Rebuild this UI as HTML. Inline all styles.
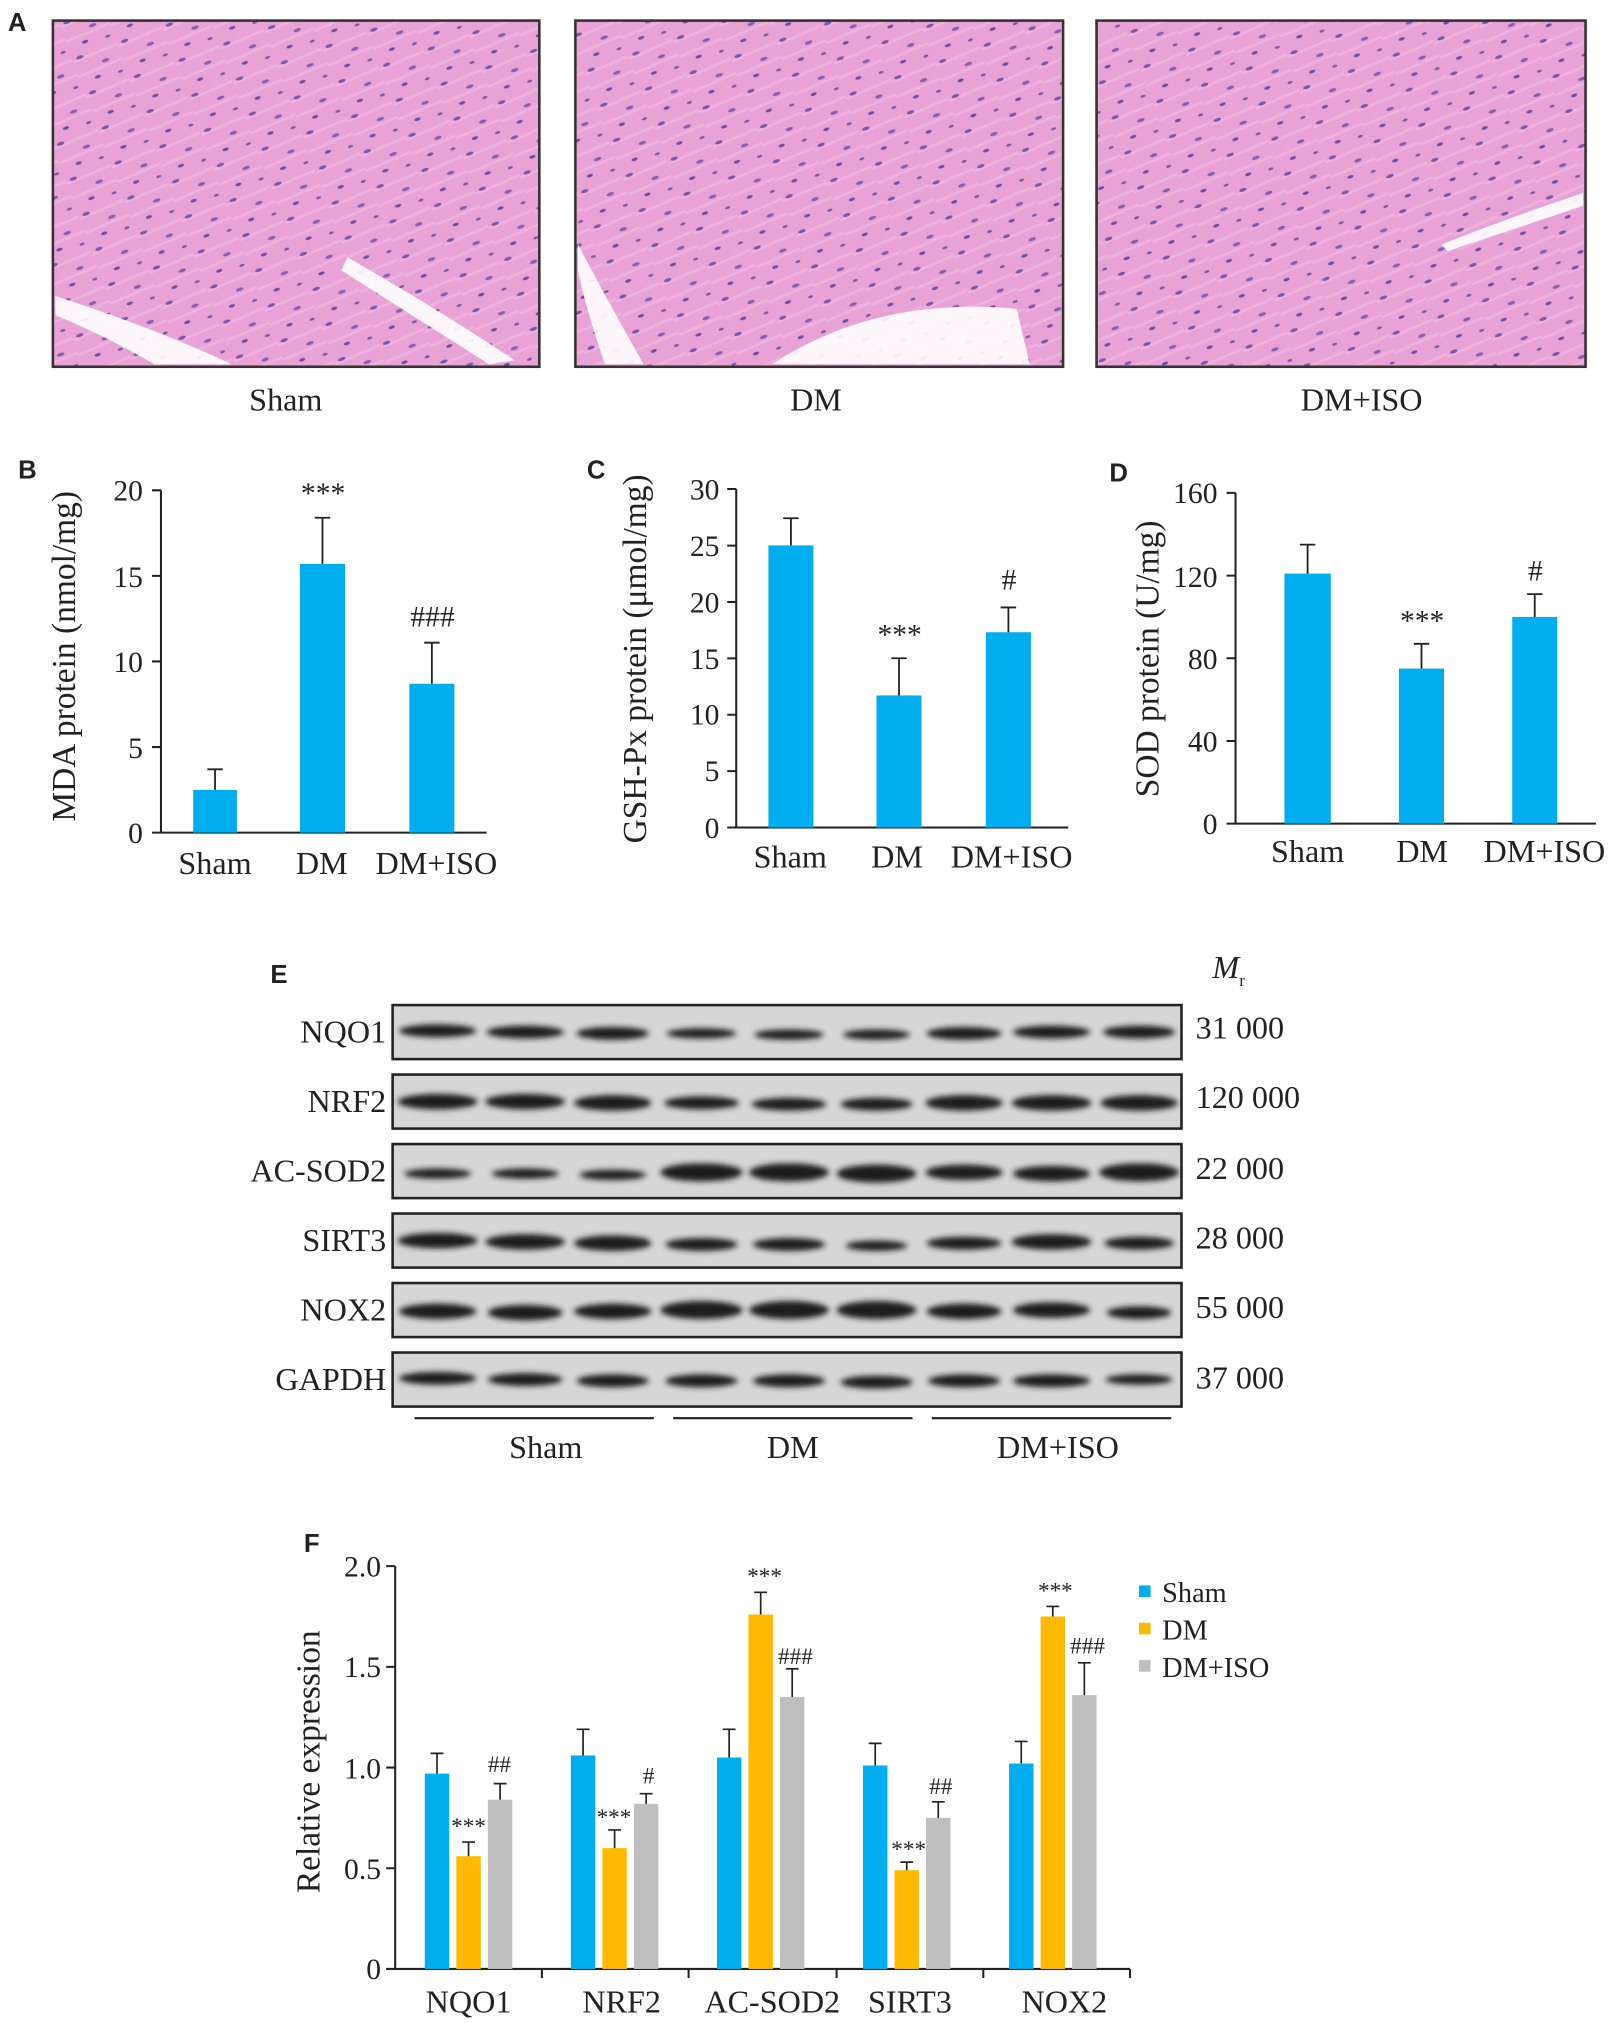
<!DOCTYPE html>
<html><head><meta charset="utf-8"><style>
html,body{margin:0;padding:0;background:#fff;}
svg{display:block;}
text{font-family:"Liberation Serif",serif;fill:#222;}
.lt{font-family:"Liberation Sans",sans-serif;font-weight:bold;font-size:20px;}
.t{font-size:25px;}
.ax{font-size:26px;}
.tk{font-size:23px;}
.lg{font-size:22px;}
</style></head><body>
<svg width="1614" height="2023" viewBox="0 0 1254 1572" xmlns="http://www.w3.org/2000/svg">
<defs>
<pattern id="nuc" width="37" height="29" patternUnits="userSpaceOnUse" patternTransform="rotate(-20)">
<rect width="37" height="29" fill="#e9a2d6"/>
<path d="M0 7 L37 5 M0 19 L37 17" stroke="#eeb2de" stroke-width="2"/>
<ellipse cx="6" cy="5" rx="3" ry="1.3" fill="#7a58a8"/>
<ellipse cx="24" cy="14" rx="3" ry="1.3" fill="#8460b0"/>
<ellipse cx="14" cy="24" rx="2.5" ry="1.2" fill="#6d4ea0"/>
<ellipse cx="32" cy="26" rx="2" ry="1" fill="#7a58a8"/>
</pattern>
<filter id="bl"><feGaussianBlur stdDeviation="2.2"/></filter>
</defs>
<rect width="1254" height="1572" fill="#fff"/>
<!-- Panel A -->
<text x="6" y="24" class="lt">A</text>
<g stroke="#333" stroke-width="2">
<rect x="41" y="16" width="378" height="269" fill="url(#nuc)"/>
<rect x="447" y="16" width="379" height="269" fill="url(#nuc)"/>
<rect x="852" y="16" width="380" height="269" fill="url(#nuc)"/>
</g>
<g fill="#fff" opacity="0.9">
<path d="M43 230 Q120 255 180 283 L120 283 Q80 260 43 245Z"/>
<path d="M270 200 Q340 240 400 280 L380 283 Q320 245 265 210Z"/>
<path d="M600 283 Q680 230 790 240 L800 283Z" />
<path d="M449 190 Q470 230 500 283 L470 283 Q455 240 449 210Z"/>
<path d="M1120 190 Q1170 170 1230 150 L1230 160 Q1170 180 1125 195Z"/>
</g>
<text x="222" y="319" class="t" text-anchor="middle">Sham</text>
<text x="634" y="319" class="t" text-anchor="middle">DM</text>
<text x="1058" y="319" class="t" text-anchor="middle">DM+ISO</text>

<!-- Panel B -->
<text x="14" y="372" class="lt">B</text>
<g stroke="#222" stroke-width="1.6" fill="none">
<path d="M125 381 V647 H378"/>
<path d="M118 381H125 M118 447.5H125 M118 514H125 M118 580.5H125 M118 647H125"/>
</g>
<g class="tk" text-anchor="end"><text x="111" y="389">20</text><text x="111" y="456">15</text><text x="111" y="522">10</text><text x="111" y="589">5</text><text x="111" y="655">0</text></g>
<text transform="translate(58 510) rotate(-90)" class="ax" text-anchor="middle">MDA protein (nmol/mg)</text>
<g fill="#00aeef"><rect x="150" y="613.8" width="34" height="33.2"/><rect x="233" y="438.2" width="35" height="208.8"/><rect x="318" y="531.3" width="35" height="115.7"/></g>
<g stroke="#222" stroke-width="1.4"><path d="M167 613.8V597.8M161 597.8H173M250.5 438.2V402.3M244.5 402.3H256.5M335.5 531.3V499.4M329.5 499.4H341.5"/></g>
<text x="251" y="391" class="tk" text-anchor="middle">***</text>
<text x="336" y="487" class="tk" text-anchor="middle">###</text>
<g class="t" text-anchor="middle"><text x="167" y="679">Sham</text><text x="250" y="679">DM</text><text x="339" y="679">DM+ISO</text></g>

<!-- Panel C -->
<text x="456" y="372" class="lt">C</text>
<g stroke="#222" stroke-width="1.6" fill="none">
<path d="M572 380 V643 H830"/>
<path d="M565 380H572M565 424H572M565 467.8H572M565 511.6H572M565 555.4H572M565 599.2H572M565 643H572"/>
</g>
<g class="tk" text-anchor="end"><text x="559" y="388">30</text><text x="559" y="432">25</text><text x="559" y="476">20</text><text x="559" y="520">15</text><text x="559" y="563">10</text><text x="559" y="607">5</text><text x="559" y="651">0</text></g>
<text transform="translate(502 512) rotate(-90)" class="ax" text-anchor="middle">GSH-Px protein (μmol/mg)</text>
<g fill="#00aeef"><rect x="597" y="423.8" width="35" height="219.2"/><rect x="681" y="540.4" width="35" height="102.6"/><rect x="766" y="491.3" width="35" height="151.7"/></g>
<g stroke="#222" stroke-width="1.4"><path d="M614.5 423.8V402.7M608.5 402.7H620.5M698.5 540.4V511.5M692.5 511.5H704.5M783.5 491.3V472M777.5 472H789.5"/></g>
<text x="699" y="501" class="tk" text-anchor="middle">***</text>
<text x="784" y="458" class="tk" text-anchor="middle">#</text>
<g class="t" text-anchor="middle"><text x="614" y="674">Sham</text><text x="697" y="674">DM</text><text x="786" y="674">DM+ISO</text></g>

<!-- Panel D -->
<text x="862" y="374" class="lt">D</text>
<g stroke="#222" stroke-width="1.6" fill="none">
<path d="M960 383 V640 H1240"/>
<path d="M953 383H960M953 447.3H960M953 511.5H960M953 575.8H960M953 640H960"/>
</g>
<g class="tk" text-anchor="end"><text x="946" y="391">160</text><text x="946" y="456">120</text><text x="946" y="520">80</text><text x="946" y="584">40</text><text x="946" y="648">0</text></g>
<text transform="translate(900 512) rotate(-90)" class="ax" text-anchor="middle">SOD protein (U/mg)</text>
<g fill="#00aeef"><rect x="998" y="445.7" width="36" height="194.3"/><rect x="1087" y="519.5" width="35" height="120.5"/><rect x="1175" y="479.4" width="35" height="160.6"/></g>
<g stroke="#222" stroke-width="1.4"><path d="M1016 445.7V423.2M1010 423.2H1022M1104.5 519.5V500.3M1098.5 500.3H1110.5M1192.5 479.4V461.7M1186.5 461.7H1198.5"/></g>
<text x="1105" y="490" class="tk" text-anchor="middle">***</text>
<text x="1193" y="451" class="tk" text-anchor="middle">#</text>
<g class="t" text-anchor="middle"><text x="1016" y="670">Sham</text><text x="1105" y="670">DM</text><text x="1200" y="670">DM+ISO</text></g>

<!-- Panel E -->
<text x="210" y="764" class="lt">E</text>
<text x="942" y="760" class="t" font-style="italic">M</text><text x="963" y="766" font-size="13">r</text>
<g stroke="#222" stroke-width="2" fill="#d6d6d6">
<rect x="305" y="781" width="613" height="42"/><rect x="305" y="835" width="613" height="42"/>
<rect x="305" y="889" width="613" height="42"/><rect x="305" y="943" width="613" height="42"/>
<rect x="305" y="997" width="613" height="42"/><rect x="305" y="1051" width="613" height="42"/>
</g>
<g fill="#1a1a1a" filter="url(#bl)">
<ellipse cx="340" cy="801" rx="30" ry="5"/><ellipse cx="408" cy="802" rx="30" ry="5"/><ellipse cx="476" cy="803" rx="28" ry="5"/><ellipse cx="545" cy="803" rx="27" ry="4"/><ellipse cx="613" cy="804" rx="27" ry="4"/><ellipse cx="681" cy="804" rx="26" ry="4"/><ellipse cx="749" cy="803" rx="29" ry="5"/><ellipse cx="817" cy="802" rx="30" ry="5"/><ellipse cx="885" cy="802" rx="28" ry="5"/>
<ellipse cx="340" cy="856" rx="31" ry="6"/><ellipse cx="408" cy="856" rx="31" ry="6"/><ellipse cx="476" cy="857" rx="30" ry="6"/><ellipse cx="545" cy="857" rx="29" ry="5"/><ellipse cx="613" cy="858" rx="29" ry="5"/><ellipse cx="681" cy="858" rx="28" ry="5"/><ellipse cx="749" cy="857" rx="30" ry="6"/><ellipse cx="817" cy="857" rx="31" ry="6"/><ellipse cx="885" cy="857" rx="30" ry="6"/>
<ellipse cx="340" cy="912" rx="26" ry="4"/><ellipse cx="408" cy="912" rx="26" ry="4"/><ellipse cx="476" cy="913" rx="26" ry="4"/><ellipse cx="545" cy="911" rx="32" ry="7"/><ellipse cx="613" cy="911" rx="31" ry="7"/><ellipse cx="681" cy="912" rx="31" ry="7"/><ellipse cx="749" cy="911" rx="30" ry="6"/><ellipse cx="817" cy="912" rx="30" ry="6"/><ellipse cx="885" cy="911" rx="31" ry="7"/>
<ellipse cx="340" cy="964" rx="31" ry="6"/><ellipse cx="408" cy="965" rx="31" ry="6"/><ellipse cx="476" cy="966" rx="30" ry="6"/><ellipse cx="545" cy="967" rx="28" ry="5"/><ellipse cx="613" cy="967" rx="28" ry="5"/><ellipse cx="681" cy="968" rx="24" ry="4"/><ellipse cx="749" cy="966" rx="29" ry="5"/><ellipse cx="817" cy="965" rx="31" ry="6"/><ellipse cx="885" cy="966" rx="27" ry="5"/>
<ellipse cx="340" cy="1019" rx="30" ry="6"/><ellipse cx="408" cy="1020" rx="29" ry="6"/><ellipse cx="476" cy="1019" rx="30" ry="6"/><ellipse cx="545" cy="1018" rx="32" ry="7"/><ellipse cx="613" cy="1018" rx="31" ry="7"/><ellipse cx="681" cy="1018" rx="31" ry="7"/><ellipse cx="749" cy="1019" rx="29" ry="6"/><ellipse cx="817" cy="1018" rx="30" ry="6"/><ellipse cx="885" cy="1020" rx="25" ry="5"/>
<ellipse cx="340" cy="1071" rx="30" ry="5"/><ellipse cx="408" cy="1072" rx="29" ry="5"/><ellipse cx="476" cy="1073" rx="28" ry="5"/><ellipse cx="545" cy="1073" rx="28" ry="5"/><ellipse cx="613" cy="1073" rx="28" ry="5"/><ellipse cx="681" cy="1074" rx="28" ry="5"/><ellipse cx="749" cy="1073" rx="28" ry="5"/><ellipse cx="817" cy="1073" rx="30" ry="5"/><ellipse cx="885" cy="1072" rx="26" ry="4"/>
</g>
<g class="t" text-anchor="end"><text x="300" y="810">NQO1</text><text x="300" y="864">NRF2</text><text x="300" y="918">AC-SOD2</text><text x="300" y="972">SIRT3</text><text x="300" y="1026">NOX2</text><text x="300" y="1080">GAPDH</text></g>
<g class="t"><text x="929" y="807">31 000</text><text x="929" y="861">120 000</text><text x="929" y="916">22 000</text><text x="929" y="970">28 000</text><text x="929" y="1024">55 000</text><text x="929" y="1079">37 000</text></g>
<path d="M322 1102H508M523 1102H709M724 1102H910" stroke="#222" stroke-width="1.6"/>
<g class="t" text-anchor="middle"><text x="424" y="1133">Sham</text><text x="616" y="1133">DM</text><text x="822" y="1133">DM+ISO</text></g>

<!-- Panel F -->
<text x="236" y="1206" class="lt">F</text>
<g stroke="#222" stroke-width="1.6" fill="none">
<path d="M307 1217V1530H878"/>
<path d="M300 1217H307M300 1295.25H307M300 1373.5H307M300 1451.75H307M300 1530H307"/>
<path d="M421 1530V1537M535 1530V1537M650 1530V1537M764 1530V1537M878 1530V1537"/>
</g>
<g class="tk" text-anchor="end"><text x="296" y="1225">2.0</text><text x="296" y="1303">1.5</text><text x="296" y="1382">1.0</text><text x="296" y="1460">0.5</text><text x="296" y="1538">0</text></g>
<text transform="translate(248 1369) rotate(-90)" class="ax" text-anchor="middle">Relative expression</text>
<g fill="#00aeef">
<rect x="330" y="1378.2" width="19" height="151.8"/><rect x="443.5" y="1364.1" width="19" height="165.9"/><rect x="557" y="1365.7" width="19" height="164.3"/><rect x="670.5" y="1371.9" width="19" height="158.1"/><rect x="784" y="1370.4" width="19" height="159.6"/>
</g>
<g fill="#ffba00">
<rect x="354.5" y="1442.4" width="19" height="87.6"/><rect x="468" y="1436.1" width="19" height="93.9"/><rect x="581.5" y="1254.6" width="19" height="275.4"/><rect x="695" y="1453.3" width="19" height="76.7"/><rect x="808.5" y="1256.1" width="19" height="273.9"/>
</g>
<g fill="#bfbfbf">
<rect x="379" y="1398.5" width="19" height="131.5"/><rect x="492.5" y="1401.7" width="19" height="128.3"/><rect x="606" y="1318.7" width="19" height="211.3"/><rect x="719.5" y="1412.6" width="19" height="117.4"/><rect x="833" y="1317.2" width="19" height="212.8"/>
</g>
<g stroke="#222" stroke-width="1.3">
<path d="M339.5 1378.2V1362.5M334.5 1362.5H344.5M364 1442.4V1431.4M359 1431.4H369M388.5 1398.5V1386M383.5 1386H393.5"/>
<path d="M453 1364.1V1343.8M448 1343.8H458M477.5 1436.1V1422M472.5 1422H482.5M502 1401.7V1393.8M497 1393.8H507"/>
<path d="M566.5 1365.7V1343.8M561.5 1343.8H571.5M591 1254.6V1237.3M586 1237.3H596M615.5 1318.7V1296.8M610.5 1296.8H620.5"/>
<path d="M680 1371.9V1354.7M675 1354.7H685M704.5 1453.3V1447M699.5 1447H709.5M729 1412.6V1400.1M724 1400.1H734"/>
<path d="M793.5 1370.4V1353.2M788.5 1353.2H798.5M818 1256.1V1248.3M813 1248.3H823M842.5 1317.2V1292.1M837.5 1292.1H847.5"/>
</g>
<g font-size="18" text-anchor="middle">
<text x="364" y="1425">***</text><text x="388" y="1377">##</text>
<text x="477" y="1418">***</text><text x="504" y="1386">#</text>
<text x="594" y="1231">***</text><text x="618" y="1293">###</text>
<text x="706" y="1443">***</text><text x="731" y="1394">##</text>
<text x="820" y="1242">***</text><text x="845" y="1285">###</text>
</g>
<g class="t" text-anchor="middle"><text x="364" y="1564">NQO1</text><text x="483" y="1564">NRF2</text><text x="600" y="1564">AC-SOD2</text><text x="707" y="1564">SIRT3</text><text x="827" y="1564">NOX2</text></g>
<rect x="885" y="1232" width="9" height="9" fill="#00aeef"/><text x="903" y="1245" class="lg">Sham</text>
<rect x="885" y="1261" width="9" height="9" fill="#ffba00"/><text x="903" y="1274" class="lg">DM</text>
<rect x="885" y="1290" width="9" height="9" fill="#bfbfbf"/><text x="903" y="1303" class="lg">DM+ISO</text>
</svg>
</body></html>
